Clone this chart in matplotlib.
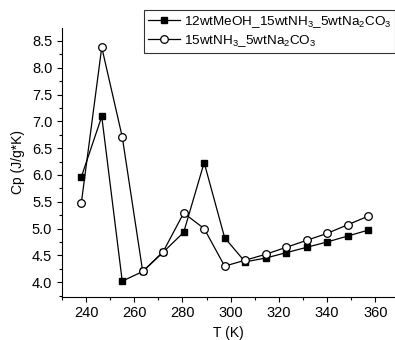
import matplotlib
matplotlib.use("Agg")
import matplotlib.pyplot as plt
from matplotlib.ticker import MultipleLocator

plt.rcParams['font.family'] = ['Liberation Sans', 'DejaVu Sans']
plt.rcParams['mathtext.fontset'] = 'custom'
plt.rcParams['mathtext.rm'] = 'Liberation Sans'
plt.rcParams['mathtext.it'] = 'Liberation Sans'

temps = [238, 246.5, 255, 263.5, 272, 280.5, 289, 297.5, 306, 314.5, 323, 331.5, 340, 348.5, 357]
cp_meoh = [5.96, 7.09, 4.02, 4.20, 4.56, 4.93, 6.23, 4.83, 4.38, 4.45, 4.55, 4.65, 4.75, 4.86, 4.97]
cp_base = [5.47, 8.38, 6.71, 4.20, 4.57, 5.29, 5.00, 4.30, 4.41, 4.52, 4.65, 4.78, 4.91, 5.07, 5.23]
label_meoh = "12wtMeOH_15wtNH$_3$_5wtNa$_2$CO$_3$"
label_base = "15wtNH$_3$_5wtNa$_2$CO$_3$"

fig = plt.figure(figsize=(3.95, 3.4), dpi=100)
ax = fig.add_axes([62/395, 1-296.7/340, (395-62)/395, (296.7-28)/340])

ax.plot(temps, cp_meoh, color='black', lw=0.9, marker='s', ms=5,
        mfc='black', mec='black', label=label_meoh)
ax.plot(temps, cp_base, color='black', lw=0.9, marker='o', ms=5.5,
        mfc='white', mec='black', mew=0.9, label=label_base)

ax.set_xlim(230, 368.2)
ax.set_ylim(3.73, 8.74)
ax.xaxis.set_major_locator(MultipleLocator(20))
ax.xaxis.set_minor_locator(MultipleLocator(10))
ax.yaxis.set_major_locator(MultipleLocator(0.5))
ax.yaxis.set_minor_locator(MultipleLocator(0.25))
ax.spines['top'].set_visible(False)
ax.spines['right'].set_visible(False)
ax.tick_params(which='both', direction='out', labelsize=10.5, width=0.8)
ax.tick_params(which='major', length=3.5)
ax.tick_params(which='minor', length=2)

ax.set_xlabel("T (K)", fontsize=10, labelpad=4)
ax.set_ylabel("Cp (J/g*K)", fontsize=10, labelpad=5)

leg = ax.legend(loc='upper left', bbox_to_anchor=(144/395, 1-10/340),
                bbox_transform=fig.transFigure, fontsize=9.7, frameon=True,
                fancybox=False, edgecolor='black', handlelength=2.4,
                borderpad=0.3, labelspacing=0.25, handletextpad=0.25, borderaxespad=0)
leg.get_frame().set_linewidth(0.8)

fig.savefig("out.png", dpi=100)
